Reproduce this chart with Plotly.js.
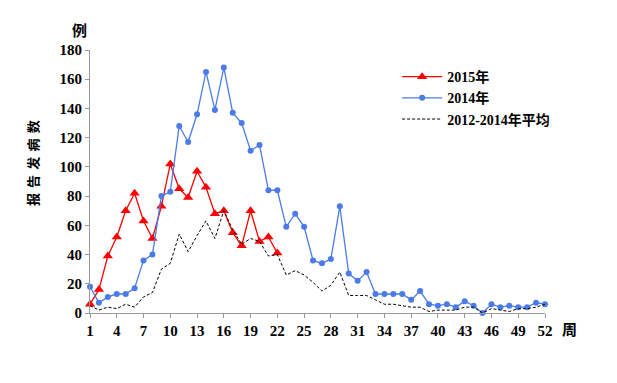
<!DOCTYPE html>
<html><head><meta charset="utf-8">
<script src="https://cdn.plot.ly/plotly-3.0.1.min.js"></script>
<style>body{margin:0;background:#fff}#c{width:617px;height:383px}</style>
</head><body><div id="c"></div>
<script>
var weeks = [];
for (var i = 1; i <= 52; i++) weeks.push(i);
var weeks2015 = weeks.slice(0, 22);
var cases2015 = [6,16,39,52,70,82,63,51,73,102,85,79,97,86,68,70,55,46,70,49,52,41];
var cases2014 = [18,7,11,13,13,17,36,40,80,83,128,117,136,165,139,168,137,130,111,115,84,84,59,68,59,36,34,37,73,27,22,28,13,13,13,13,9,15,6,5,6,4,8,5,0,6,4,5,4,4,7,6];
var avg1214 = [5,2,4,3,6,4,11,14,30,34,54,42,53,63,51,70,57,47,51,49,39,40,26,29,26,21,15,19,28,12,12,12,9,6,6,5,4,4,1,2,2,2,4,4,0,3,2,1,3,3,4,6];
var xTicks = [1,4,7,10,13,16,19,22,25,28,31,34,37,40,43,46,49,52];

var F = '"Liberation Serif", "Noto Sans CJK SC", serif';
var CJK = '"Noto Sans CJK SC", sans-serif';
var traces = [
  {x: weeks2015, y: cases2015, name: '2015年', mode: 'lines+markers', cliponaxis: false,
   line: {color: '#ff0000', width: 1.3}, marker: {symbol: 'triangle-up', size: 9, color: '#ff0000'}},
  {x: weeks, y: cases2014, name: '2014年', mode: 'lines+markers', cliponaxis: false,
   line: {color: '#4a7be8', width: 1.3}, marker: {symbol: 'circle', size: 6, color: '#4a7be8'}},
  {x: weeks, y: avg1214, name: '2012-2014年平均', mode: 'lines', cliponaxis: false,
   line: {color: '#000000', width: 1, dash: '3px,2px'}}
];
var th = '\u2009\u2009';
var layout = {
  width: 617, height: 383,
  margin: {l: 90, r: 72, t: 50, b: 70},
  paper_bgcolor: '#fff', plot_bgcolor: '#fff',
  font: {family: F, size: 12, color: '#000', weight: 'bold'},
  showlegend: true,
  legend: {x: 0.675, y: 0.958, xanchor: 'left', yanchor: 'top', bgcolor: 'rgba(0,0,0,0)',
           font: {family: F, size: 14, color: '#000', weight: 'bold'}, tracegroupgap: 0, itemwidth: 40},
  xaxis: {range: [1, 52], tickvals: xTicks, ticktext: xTicks.map(String), showgrid: false, zeroline: false,
          showline: true, linecolor: '#999', linewidth: 1, ticks: 'outside', ticklen: 4, tickcolor: '#999',
          tickfont: {family: F, size: 15, color: '#000', weight: 'bold'}},
  yaxis: {range: [0, 180], dtick: 20, showgrid: false, zeroline: false,
          showline: true, linecolor: '#999', linewidth: 1, ticks: 'outside', ticklen: 4, tickcolor: '#999',
          tickfont: {family: F, size: 15, color: '#000', weight: 'bold'}},
  annotations: [
    {text: '报' + th + '告' + th + '发' + th + '病' + th + '数', textangle: -90,
     xref: 'paper', yref: 'paper', x: -0.1275, y: 0.57, xanchor: 'center', yanchor: 'middle', showarrow: false,
     font: {family: CJK, size: 13, color: '#000', weight: 'bold'}},
    {text: '例', xref: 'paper', yref: 'paper', x: -0.022, y: 1.03, xanchor: 'center', yanchor: 'bottom', showarrow: false,
     font: {family: CJK, size: 15, color: '#000', weight: 'bold'}},
    {text: '周', xref: 'paper', yref: 'paper', x: 1.033, y: -0.01, xanchor: 'left', yanchor: 'top', showarrow: false,
     font: {family: CJK, size: 15, color: '#000', weight: 'bold'}}
  ]
};
Plotly.newPlot('c', traces, layout, {displayModeBar: false, staticPlot: true});
</script></body></html>
